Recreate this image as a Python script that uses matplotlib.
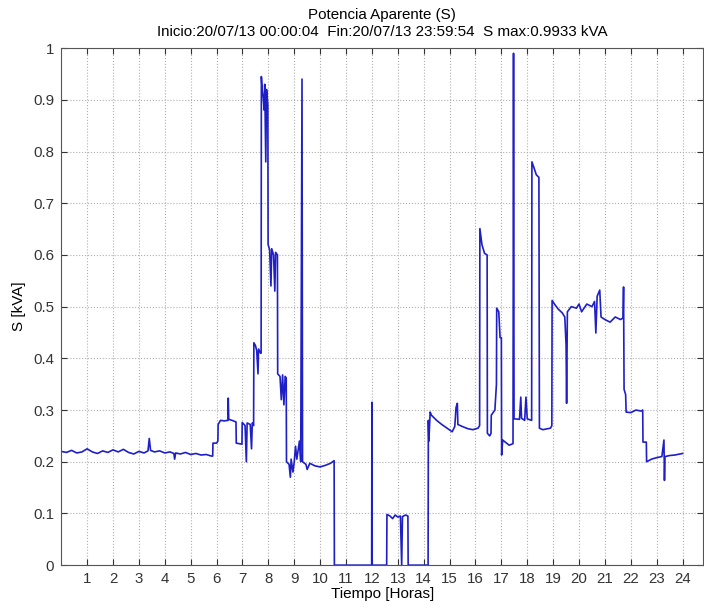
import numpy as np
import matplotlib
matplotlib.use("Agg")
import matplotlib.pyplot as plt

plt.rcParams['font.family'] = ['Liberation Sans', 'DejaVu Sans']

# Potencia aparente (horas, kVA)
horas = [0.0, 0.2, 0.4, 0.6, 0.8, 1.0, 1.2, 1.4, 1.6, 1.8, 2.0, 2.2, 2.4, 2.6, 2.8,
         3.0, 3.2, 3.35, 3.4, 3.45, 3.6, 3.8, 4.0, 4.2, 4.35, 4.38, 4.42, 4.6, 4.8,
         5.0, 5.2, 5.4, 5.6, 5.8, 5.85, 5.86, 6.0, 6.05, 6.06, 6.15, 6.3, 6.44, 6.45,
         6.47, 6.6, 6.75, 6.76, 6.98, 6.99, 7.1, 7.15, 7.18, 7.3, 7.35, 7.38, 7.43,
         7.44, 7.5, 7.55, 7.6, 7.62, 7.7, 7.72, 7.73, 7.76, 7.8, 7.84, 7.86, 7.9,
         7.93, 7.98, 7.99, 8.05, 8.1, 8.13, 8.2, 8.25, 8.28, 8.35, 8.36, 8.45, 8.5,
         8.55, 8.6, 8.65, 8.69, 8.7, 8.8, 8.85, 8.88, 8.95, 9.0, 9.05, 9.1, 9.2,
         9.25, 9.3, 9.32, 9.45, 9.5, 9.6, 9.8, 10.0, 10.2, 10.4, 10.54, 10.55,
         11.99, 12.0, 12.01, 12.57, 12.58, 12.7, 12.8, 12.9, 13.0, 13.1, 13.15,
         13.18, 13.3, 13.39, 13.4, 14.17, 14.18, 14.2, 14.25, 14.3, 14.5, 14.7,
         14.9, 15.1, 15.2, 15.25, 15.3, 15.32, 15.5, 15.7, 15.9, 16.1, 16.16, 16.17,
         16.25, 16.35, 16.45, 16.46, 16.55, 16.6, 16.61, 16.75, 16.81, 16.82, 16.9,
         16.95, 17.0, 17.01, 17.05, 17.2, 17.3, 17.45, 17.47, 17.49, 17.7, 17.75,
         17.78, 17.9, 17.95, 18.0, 18.17, 18.18, 18.25, 18.35, 18.45, 18.46, 18.47,
         18.6, 18.9, 18.95, 18.96, 19.05, 19.2, 19.35, 19.45, 19.5, 19.52, 19.55,
         19.7, 19.9, 20.0, 20.1, 20.3, 20.5, 20.6, 20.65, 20.7, 20.8, 20.85, 21.0,
         21.2, 21.4, 21.6, 21.7, 21.72, 21.74, 21.8, 21.82, 22.0, 22.2, 22.4, 22.46,
         22.47, 22.6, 22.61, 22.8, 23.0, 23.2, 23.28, 23.3, 23.32, 23.5, 23.7, 23.9,
         24.0]
s_kva = [0.220, 0.218, 0.222, 0.217, 0.219, 0.225, 0.219, 0.216, 0.221, 0.218, 0.223,
         0.219, 0.224, 0.218, 0.215, 0.220, 0.217, 0.221, 0.245, 0.222, 0.219, 0.221,
         0.217, 0.219, 0.216, 0.205, 0.217, 0.215, 0.218, 0.214, 0.216, 0.213, 0.214,
         0.211, 0.211, 0.236, 0.236, 0.240, 0.272, 0.280, 0.279, 0.280, 0.323, 0.282,
         0.280, 0.277, 0.236, 0.234, 0.276, 0.270, 0.200, 0.275, 0.272, 0.225, 0.275,
         0.270, 0.430, 0.425, 0.415, 0.370, 0.418, 0.410, 0.410, 0.945, 0.920, 0.905,
         0.880, 0.930, 0.780, 0.920, 0.890, 0.620, 0.610, 0.540, 0.612, 0.600, 0.530,
         0.605, 0.600, 0.370, 0.365, 0.320, 0.368, 0.310, 0.365, 0.362, 0.200, 0.195,
         0.170, 0.205, 0.180, 0.200, 0.230, 0.205, 0.240, 0.200, 0.940, 0.200, 0.195,
         0.185, 0.197, 0.192, 0.190, 0.193, 0.197, 0.202, 0.0, 0.0, 0.315, 0.0, 0.0,
         0.098, 0.095, 0.090, 0.097, 0.093, 0.095, 0.0, 0.094, 0.097, 0.095, 0.0, 0.0,
         0.280, 0.240, 0.296, 0.290, 0.280, 0.272, 0.265, 0.258, 0.268, 0.305, 0.313,
         0.272, 0.268, 0.264, 0.262, 0.265, 0.270, 0.651, 0.620, 0.603, 0.600, 0.255,
         0.250, 0.255, 0.290, 0.300, 0.350, 0.497, 0.490, 0.440, 0.440, 0.213, 0.242,
         0.236, 0.232, 0.235, 0.990, 0.283, 0.282, 0.325, 0.284, 0.280, 0.325, 0.283,
         0.280, 0.780, 0.770, 0.755, 0.750, 0.510, 0.265, 0.262, 0.265, 0.270, 0.512,
         0.505, 0.495, 0.488, 0.480, 0.425, 0.313, 0.490, 0.500, 0.497, 0.505, 0.490,
         0.505, 0.500, 0.510, 0.449, 0.520, 0.532, 0.480, 0.475, 0.470, 0.480, 0.475,
         0.478, 0.538, 0.340, 0.330, 0.296, 0.295, 0.300, 0.298, 0.300, 0.238, 0.238,
         0.200, 0.205, 0.208, 0.210, 0.242, 0.164, 0.210, 0.212, 0.213, 0.215, 0.216]

x_ticks = list(range(1, 25))
y_ticks = [0, 0.1, 0.2, 0.3, 0.4, 0.5, 0.6, 0.7, 0.8, 0.9, 1]
y_labels = ['0', '0.1', '0.2', '0.3', '0.4', '0.5', '0.6', '0.7', '0.8', '0.9', '1']

fig = plt.figure(figsize=(7.04, 6.09), dpi=100)
ax = fig.add_axes([0.087, 0.072, 0.912, 0.849])

ax.plot(horas, s_kva, color='#1f1fc8', linewidth=1.2)

ax.set_xlim(0, 24.8)
ax.set_ylim(0, 1)
ax.set_xticks(x_ticks)
ax.set_yticks(y_ticks)
ax.set_yticklabels(y_labels)
ax.tick_params(direction='in', length=4, top=True, right=True, labelsize=10.8,
               colors='#333333', pad=5)
ax.grid(True, linestyle=':', color='#b0b0b0', linewidth=0.8)
for sp in ax.spines.values():
    sp.set_color('#555555')

ax.set_xlabel('Tiempo [Horas]', fontsize=11, labelpad=1)
ax.set_ylabel('S [kVA]', fontsize=11, labelpad=5)
ax.set_title('Potencia Aparente (S)\nInicio:20/07/13 00:00:04  Fin:20/07/13 23:59:54  S max:0.9933 kVA',
             fontsize=10.9, linespacing=1.2, pad=9)

fig.savefig('out.png', dpi=100)
